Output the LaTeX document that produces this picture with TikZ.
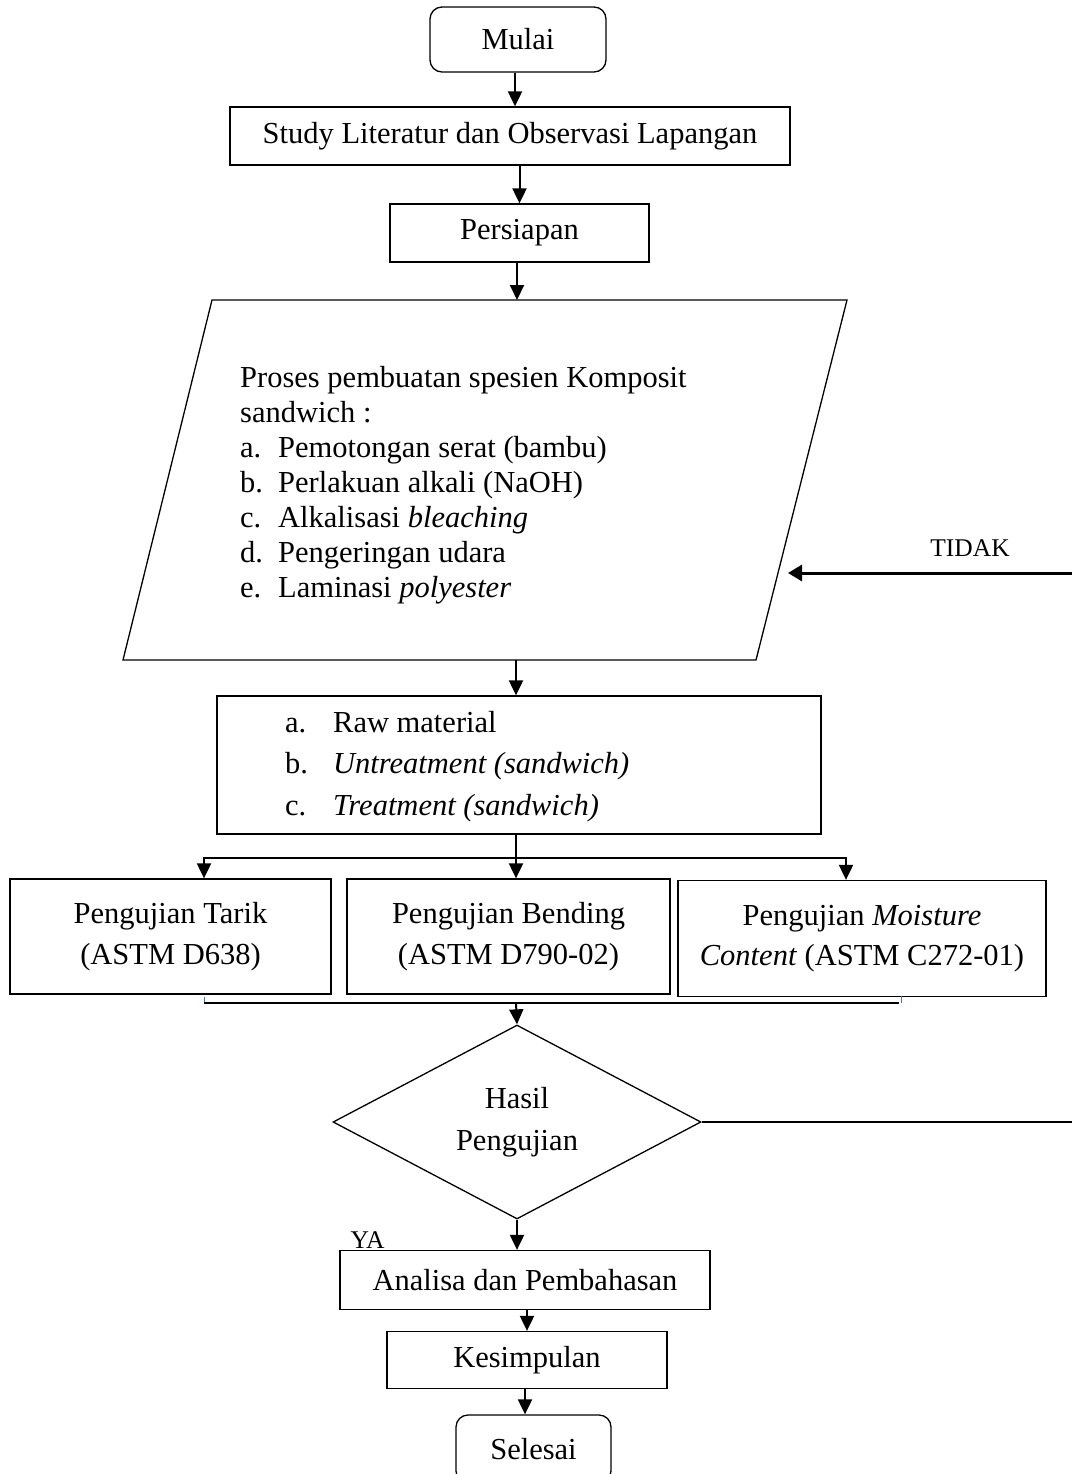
\documentclass[tikz,border=0pt]{standalone}
\usepackage{fontspec}
\setmainfont{Liberation Serif}
\usetikzlibrary{arrows.meta,shapes.geometric,calc}
\definecolor{tickblue}{RGB}{68,114,196}
\begin{document}
\begin{tikzpicture}[x=1pt,y=-1pt,
  box/.style={draw,line width=1.3pt,inner sep=0pt,align=center,font=\fontsize{30.5}{40.5}\selectfont},
  term/.style={box,rounded corners=12pt},
  conn/.style={line width=2pt,-{Triangle[length=15pt,width=14pt]}},
  plain/.style={line width=2pt},
  tidakarrow/.style={line width=3pt,-{Triangle[length=14pt,width=16pt]}},
  lbl/.style={inner sep=0pt,font=\fontsize{25.5}{30}\selectfont},
  lst/.style={inner sep=0pt,align=left,anchor=north west}]
\useasboundingbox (0,0) rectangle (1071,1474);
\fill[white] (0,0) rectangle (1071,1474);

% top chain
\node[term,minimum width=176pt,minimum height=65pt] (mulai) at (518,39.5) {Mulai};
\node[box,minimum width=560pt,minimum height=58pt] (study) at (510,136) {Study Literatur dan Observasi Lapangan};
\node[box,minimum width=259pt,minimum height=58pt] (prep) at (519.5,233) {Persiapan};

\draw[conn] ([xshift=-3pt]mulai.south) -- ([xshift=-3pt]mulai.south |- study.north);
\draw[conn] (study.south -| prep.north) -- (prep.north);

% parallelogram
\coordinate (pTL) at (212,300);
\coordinate (pTR) at (847,300);
\coordinate (pBR) at (756,660);
\coordinate (pBL) at (123,660);
\coordinate (ptop) at (517,300);
\coordinate (pbot) at (516,660);
\draw[line width=1.3pt] (pTL) -- (pTR) -- (pBR) -- (pBL) -- cycle;
\draw[conn] (prep.south -| ptop) -- (ptop);
\node[lst,font=\fontsize{30.5}{35}\selectfont] (ptext) at (240,366)
  {Proses pembuatan spesien Komposit\\
   sandwich :\\
   \makebox[38pt][l]{a.}Pemotongan serat (bambu)\\
   \makebox[38pt][l]{b.}Perlakuan alkali (NaOH)\\
   \makebox[38pt][l]{c.}Alkalisasi \textit{bleaching}\\
   \makebox[38pt][l]{d.}Pengeringan udara\\
   \makebox[38pt][l]{e.}Laminasi \textit{polyester}};

% raw material box
\node[box,minimum width=604pt,minimum height=138pt] (raw) at (519,765) {};
\node[lst,font=\fontsize{30.5}{41.5}\selectfont] (rawtext) at (285,711)
  {\makebox[48pt][l]{a.}Raw material\\
   \makebox[48pt][l]{b.}\textit{Untreatment (sandwich)}\\
   \makebox[48pt][l]{c.}\textit{Treatment (sandwich)}};
\draw[conn] (pbot) -- (pbot |- raw.north);

% three test boxes
\node[box,minimum width=321pt,minimum height=115pt] (t1) at (170.5,936.5) {Pengujian Tarik\\(ASTM D638)};
\node[box,minimum width=323pt,minimum height=115pt] (t2) at (508.5,936.5) {Pengujian Bending\\(ASTM D790-02)};
\node[box,minimum width=368pt,minimum height=116pt] (t3) at (862,938.5) {Pengujian \textit{Moisture}\\\textit{Content} (ASTM C272-01)};

\coordinate (j0) at (516,858);
\coordinate (jL) at (204,858);
\coordinate (jR) at (846,858);
\draw[plain] (raw.south -| j0) -- (j0);
\draw[plain,line cap=rect] (jL) -- (jR);
\draw[conn] (jL) -- (jL |- t1.north);
\draw[conn] (j0) -- (j0 |- t2.north);
\draw[conn] (jR) -- (jR |- t3.north);

% joining line below
\coordinate (kL) at (204,1003);
\coordinate (kR) at (899,1003);
\coordinate (k0) at (516,1003);
\draw[tickblue,line width=1pt] (204,997) -- (kL);
\draw[tickblue,line width=1pt] (901,996) -- (901,1003);
\draw[plain] (kL) -- (kR);

% decision
\node[draw,diamond,line width=1.3pt,minimum width=368pt,minimum height=194pt,inner sep=0pt,
      align=center,font=\fontsize{30.5}{42}\selectfont] (dia) at (517,1122) {Hasil\\Pengujian};
\draw[conn] (k0) -- (dia.north);

% TIDAK loop
\coordinate (rc1) at (1075,1122);
\coordinate (rc2) at (1075,573);
\coordinate (hit) at (788,573);
\draw[plain] (dia.east) -- (rc1) -- (rc2);
\draw[tidakarrow] (rc2) -- (hit);
\node[lbl] (tidak) at (970,548) {TIDAK};

% bottom chain
\node[box,minimum width=370pt,minimum height=59pt] (anal) at (525,1280) {Analisa dan Pembahasan};
\node[box,minimum width=280pt,minimum height=57pt] (kesim) at (527,1360) {Kesimpulan};
\node[term,minimum width=155pt,minimum height=68pt] (selesai) at (533.5,1449) {Selesai};
\node[lbl] (ya) at (367.5,1240) {YA};

\draw[conn] (dia.south) -- (dia.south |- anal.north);
\draw[conn] (anal.south -| kesim.north) -- (kesim.north);
\draw[conn] ([xshift=-2pt]kesim.south) -- ([xshift=-2pt]kesim.south |- selesai.north);
\end{tikzpicture}
\end{document}
